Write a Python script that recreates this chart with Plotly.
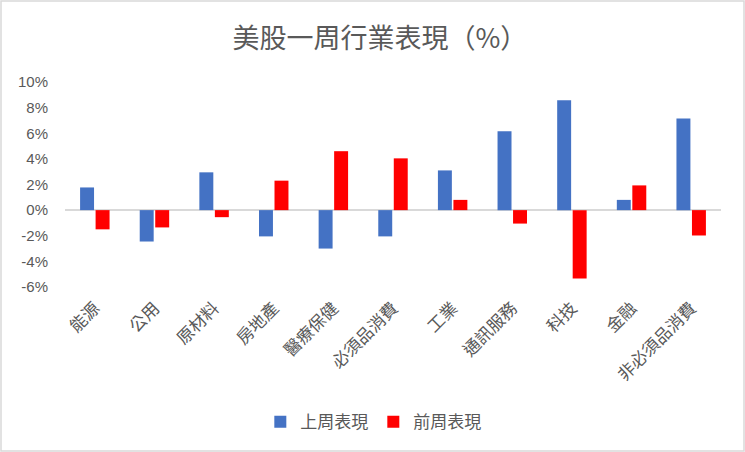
import plotly.graph_objects as go

sectors = ['能源', '公用', '原材料', '房地產', '醫療保健', '必須品消費',
           '工業', '通訊服務', '科技', '金融', '非必須品消費']
last_week = [1.77, -2.45, 2.95, -2.05, -3.0, -2.05, 3.1, 6.15, 8.57, 0.8, 7.16]
prev_week = [-1.5, -1.35, -0.55, 2.3, 4.6, 4.04, 0.8, -1.05, -5.33, 1.93, -1.98]
y_ticks = list(range(-6, 11, 2))
y_labels = ['%d%%' % v for v in y_ticks]

cjk = 'Noto Sans CJK TC'
grey = '#595959'

fig = go.Figure()
fig.add_trace(go.Bar(x=sectors, y=last_week, name='上周表現',
                     marker=dict(color='#4472C4', line_width=0)))
fig.add_trace(go.Bar(x=sectors, y=prev_week, name='前周表現',
                     marker=dict(color='#FF0000', line_width=0)))

fig.update_layout(
    width=745, height=452,
    paper_bgcolor='white', plot_bgcolor='white',
    margin=dict(l=65, r=24, t=82, b=165, autoexpand=False),
    barmode='group', bargap=0.48, bargroupgap=0.1,
    title=dict(text='美股一周行業表現（%）', x=0.51, xanchor='center',
               y=0.915, yanchor='middle',
               font=dict(family=cjk, size=27, color=grey)),
    xaxis=dict(tickangle=-45, showline=False, showgrid=False, ticks='',
               automargin=False, ticklabelstandoff=7,
               tickfont=dict(family=cjk, size=17, color=grey)),
    yaxis=dict(range=[-6, 10], tickvals=y_ticks, ticktext=y_labels,
               showgrid=False, zeroline=True, zerolinecolor='#D9D9D9',
               zerolinewidth=2, showline=False, ticks='', automargin=False,
               ticklabelstandoff=16,
               tickfont=dict(family='Liberation Sans, Arial', size=15, color=grey)),
    legend=dict(orientation='h', x=0.47, xanchor='center', y=-0.66,
                yanchor='middle', font=dict(family=cjk, size=17, color=grey),
                itemwidth=30, traceorder='normal'),
    showlegend=True,
)

fig.add_shape(type='rect', xref='paper', yref='paper',
              x0=-64 / 656, x1=1 + 23 / 656, y0=-164 / 205, y1=1 + 81 / 205,
              line=dict(color='#D9D9D9', width=1.5), fillcolor='rgba(0,0,0,0)')

# page body has a default 8px margin; drop it so the chart sits at 0,0
fig.write_html('out.html', config={'displayModeBar': False},
               post_script="document.body.style.margin='0';")
